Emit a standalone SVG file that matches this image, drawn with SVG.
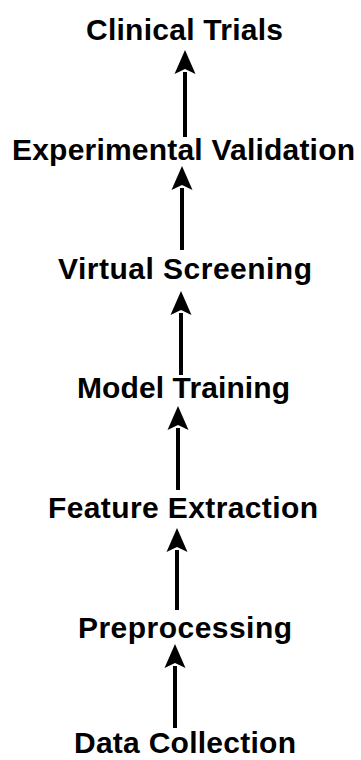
<svg xmlns="http://www.w3.org/2000/svg" width="361" height="760" viewBox="0 0 361 760">
  <defs>
    <style>
      .label { font-family: "Liberation Sans", Arial, sans-serif; font-weight: bold; font-size: 30px; fill: #000; text-anchor: middle; }
      .edge { stroke: #000; stroke-width: 4; fill: none; }
    </style>
    <marker id="head" viewBox="0 0 24 22" refX="2" refY="11" markerWidth="24" markerHeight="22" markerUnits="userSpaceOnUse" orient="auto">
      <path d="M0,0.5 L24,11 L0,21.5 L5,11 Z" fill="#000"/>
    </marker>
  </defs>
  <rect width="361" height="760" fill="#fff"/>

  <g id="connectors">
    <line class="edge" x1="185" y1="137" x2="185" y2="72" marker-end="url(#head)"/>
    <line class="edge" x1="182" y1="250" x2="182" y2="188" marker-end="url(#head)"/>
    <line class="edge" x1="181" y1="375" x2="181" y2="313" marker-end="url(#head)"/>
    <line class="edge" x1="178" y1="490" x2="178" y2="428" marker-end="url(#head)"/>
    <line class="edge" x1="177" y1="610" x2="177" y2="550" marker-end="url(#head)"/>
    <line class="edge" x1="175" y1="728" x2="175" y2="666" marker-end="url(#head)"/>
  </g>

  <g id="clinical-trials"><text class="label" x="184.5" y="40" textLength="197" lengthAdjust="spacing">Clinical Trials</text></g>
  <g id="experimental-validation"><text class="label" x="183.5" y="160" textLength="343" lengthAdjust="spacing">Experimental Validation</text></g>
  <g id="virtual-screening"><text class="label" x="185" y="279" textLength="254" lengthAdjust="spacing">Virtual Screening</text></g>
  <g id="model-training"><text class="label" x="183.5" y="398" textLength="213" lengthAdjust="spacing">Model Training</text></g>
  <g id="feature-extraction"><text class="label" x="183" y="518" textLength="270" lengthAdjust="spacing">Feature Extraction</text></g>
  <g id="preprocessing"><text class="label" x="185" y="638" textLength="214" lengthAdjust="spacing">Preprocessing</text></g>
  <g id="data-collection"><text class="label" x="185" y="753" textLength="222" lengthAdjust="spacing">Data Collection</text></g>
</svg>
